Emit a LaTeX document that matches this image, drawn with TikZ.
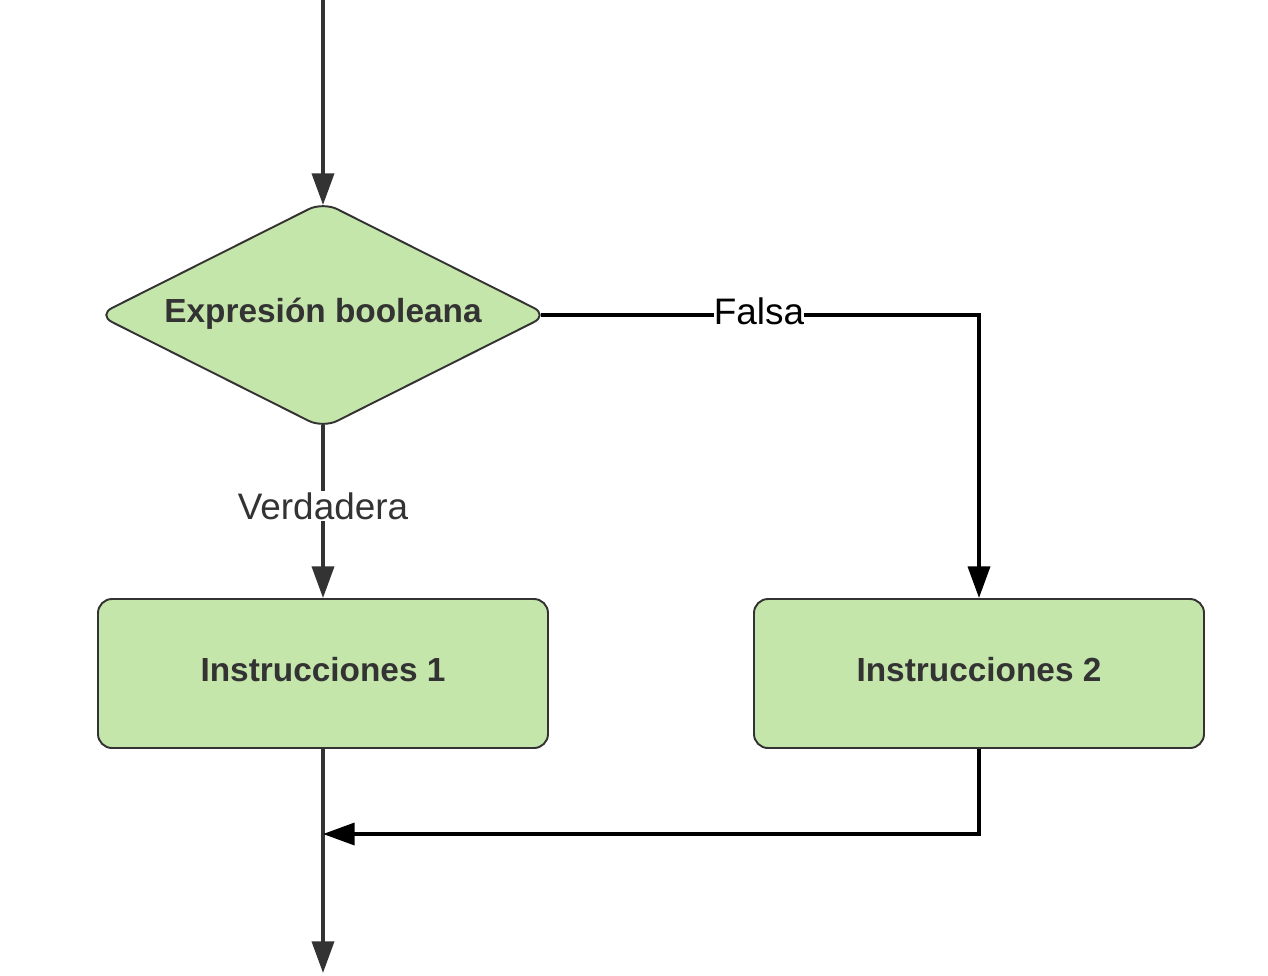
\documentclass[tikz,border=0pt]{standalone}
\usepackage{fontspec}
\setmainfont{Liberation Sans}
\usetikzlibrary{arrows.meta}
\definecolor{boxfill}{HTML}{C5E6AA}
\definecolor{dgray}{HTML}{333333}
\begin{document}
\begin{tikzpicture}[x=0.02cm,y=-0.02cm,
  conn/.style={line width=2.1pt, -{Triangle[length=18pt,width=12.5pt]}},
  graycon/.style={conn, draw=dgray},
  blackcon/.style={conn, draw=black},
  boxlbl/.style={font=\fontsize{19}{22}\selectfont\bfseries, text=dgray},
  edgelbl/.style={font=\fontsize{21}{25}\selectfont, fill=white, inner sep=1pt},
  procbox/.style={draw=dgray, line width=1.1pt, fill=boxfill, rounded corners=8pt,
     minimum width=450*0.02cm, minimum height=149*0.02cm, inner sep=0pt}]
\useasboundingbox (0,0) rectangle (1268,975);
% decision diamond
\draw[draw=dgray, line width=1.1pt, fill=boxfill, rounded corners=9pt]
  (323,202) -- (548,315) -- (323,428) -- (98,315) -- cycle;
\coordinate (dt) at (323,205);
\coordinate (db) at (323,425);
\coordinate (dr) at (541,315);
\node[boxlbl] (dec) at (323,314) {Expresión booleana};
% boxes
\node[procbox, boxlbl] (b1) at (323,673.5) {\raisebox{0.16cm}{Instrucciones 1}};
\node[procbox, boxlbl] (b2) at (979,673.5) {\raisebox{0.16cm}{Instrucciones 2}};
% helper coordinates
\coordinate (top) at (323,0);
\coordinate (bot) at (323,973);
\coordinate (fr) at (979,315);
\coordinate (mr) at (979,834);
\coordinate (ml) at (323,834);
% connectors
\draw[graycon] (top) -- (dt);
\draw[graycon] (db) -- (b1.north);
\node[edgelbl, text=dgray] (vlab) at (323,506) {Verdadera};
\draw[blackcon] (dr) -- (fr) -- (b2.north);
\node[edgelbl, text=black, inner xsep=0pt] (flab) at (759,311) {Falsa};
\draw[graycon] (b1.south) -- (bot);
\draw[blackcon] (b2.south) -- (mr) -- (ml);
\end{tikzpicture}
\end{document}
